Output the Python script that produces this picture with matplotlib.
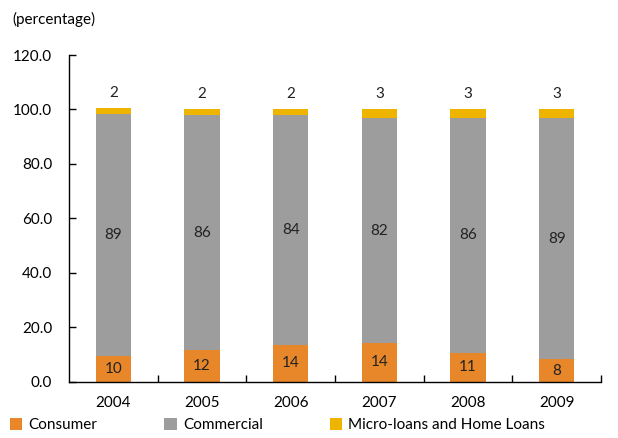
import numpy as np
import matplotlib.pyplot as plt

years = ['2004', '2005', '2006', '2007', '2008', '2009']
consumer = [9.6, 11.6, 13.6, 14.3, 10.6, 8.2]
commercial = [88.9, 86.4, 84.2, 82.4, 86.4, 88.8]
micro = [1.9, 2.0, 2.2, 3.3, 3.1, 3.0]
series_names = ['Consumer', 'Commercial', 'Micro-loans and Home Loans']
colors = ['#E8872A', '#9D9D9D', '#EFB400']

plt.rcParams['font.family'] = ['Lato', 'DejaVu Sans']
fs = 11

fig = plt.figure(figsize=(6.18, 4.38), dpi=100)
ax = fig.add_axes([0.1117, 0.1285, 0.8608, 0.7459])

x = np.arange(len(years))
w = 0.40
b1 = ax.bar(x, consumer, w, color=colors[0], label=series_names[0])
b2 = ax.bar(x, commercial, w, bottom=consumer, color=colors[1], label=series_names[1])
bottom3 = np.array(consumer) + np.array(commercial)
b3 = ax.bar(x, micro, w, bottom=bottom3, color=colors[2], label=series_names[2])

for i in range(len(years)):
    ax.text(x[i], consumer[i] / 2, f'{consumer[i]:.0f}', ha='center', va='center', fontsize=fs, color='#222222')
    ax.text(x[i], consumer[i] + commercial[i] / 2, f'{commercial[i]:.0f}', ha='center', va='center', fontsize=fs, color='#222222')
    ax.annotate(f'{micro[i]:.0f}', (x[i], bottom3[i] + micro[i]), xytext=(0, 6), textcoords='offset points',
                ha='center', va='bottom', fontsize=fs, color='#222222')

ax.set_xlim(-0.5, len(years) - 0.5)
ax.set_ylim(0, 120)
ax.set_yticks(np.arange(0, 121, 20))
ax.set_yticklabels([f'{v:.1f}' for v in np.arange(0, 121, 20)], fontsize=fs)
ax.set_xticks(x)
ax.set_xticklabels(years, fontsize=fs)
ax.set_xticks(np.arange(0.5, len(years)), minor=True)
ax.tick_params(axis='x', which='major', length=0, pad=10)
ax.tick_params(axis='x', which='minor', direction='in', length=5, width=1)
ax.tick_params(axis='y', direction='in', length=5, width=1, pad=12)
for s in ['top', 'right']:
    ax.spines[s].set_visible(False)
for s in ['left', 'bottom']:
    ax.spines[s].set_linewidth(1)

fig.text(0.02, 0.955, '(percentage)', fontsize=fs, ha='left', va='center')

fig.legend(handles=[b1, b2, b3], loc='lower left', bbox_to_anchor=(-0.006, -0.018), ncol=3, frameon=False,
           fontsize=fs, handlelength=0.8, handleheight=0.9, handletextpad=0.4, columnspacing=4.4)

fig.savefig('out.png', dpi=100)
